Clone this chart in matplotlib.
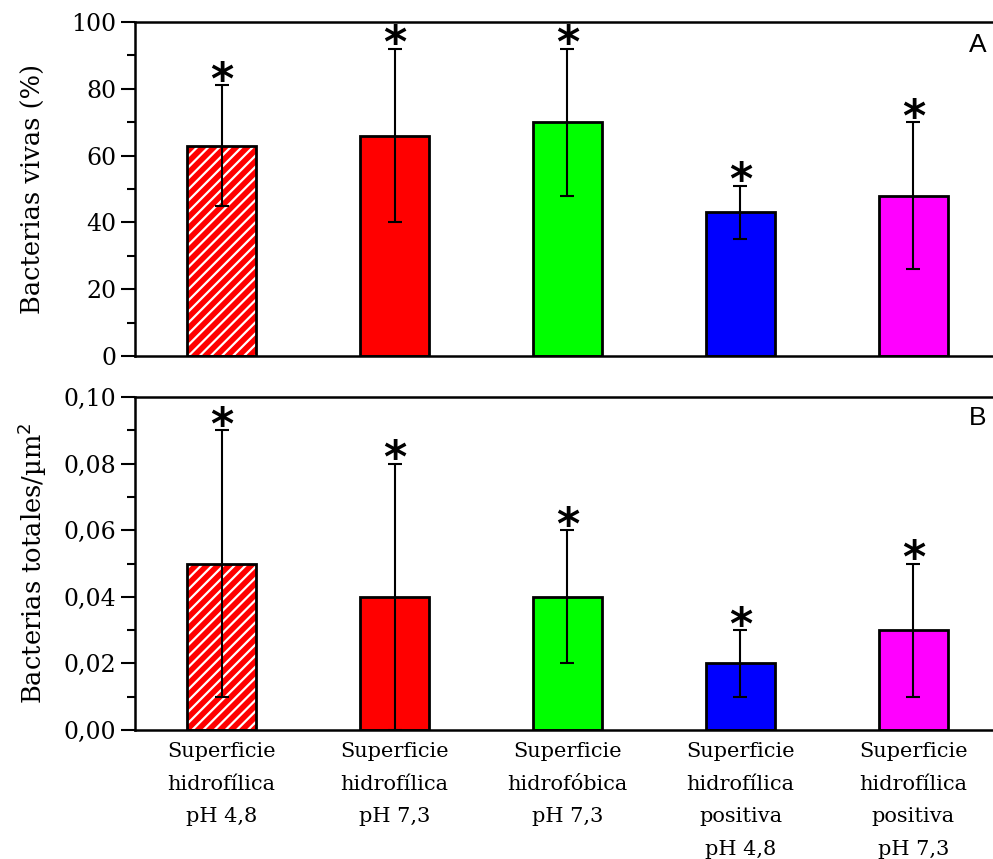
import matplotlib.pyplot as plt
import matplotlib.ticker as ticker
import numpy as np

categories = ['Superficie\nhidrofílica\npH 4,8',
              'Superficie\nhidrofílica\npH 7,3',
              'Superficie\nhidrofóbica\npH 7,3',
              'Superficie\nhidrofílica\npositiva\npH 4,8',
              'Superficie\nhidrofílica\npositiva\npH 7,3']
colors = ['#ff0000', '#ff0000', '#00ff00', '#0000ff', '#ff00ff']
hatched = [True, False, False, False, False]

vivas = [63, 66, 70, 43, 48]
vivas_err = [18, 26, 22, 8, 22]

totales = [0.05, 0.04, 0.04, 0.02, 0.03]
totales_err = [0.04, 0.04, 0.02, 0.01, 0.02]

plt.rcParams['hatch.linewidth'] = 1.6
serif = 'DejaVu Serif'

fig = plt.figure(figsize=(9.93, 8.59), dpi=100)
ax1 = fig.add_axes([0.136, 0.5856, 0.864, 0.3888])
ax2 = fig.add_axes([0.136, 0.1502, 0.864, 0.3876])

x = np.arange(len(categories))


def draw_panel(ax, vals, errs, ymax, minor, star_off, letter, ly):
    for i in range(len(vals)):
        if hatched[i]:
            ax.bar(x[i], vals[i], width=0.4, color=colors[i], edgecolor='white',
                   hatch='///', linewidth=0, zorder=2)
            ax.bar(x[i], vals[i], width=0.4, fill=False, edgecolor='black',
                   linewidth=2, zorder=3)
        else:
            ax.bar(x[i], vals[i], width=0.4, color=colors[i], edgecolor='black',
                   linewidth=2, zorder=2)
    ax.errorbar(x, vals, yerr=errs, fmt='none', ecolor='black', elinewidth=1.5,
                capsize=5, capthick=1.5, zorder=4)
    for i in range(len(vals)):
        ax.text(x[i], vals[i] + errs[i] + star_off, '*', ha='center', va='center',
                fontsize=32, fontweight='bold', zorder=5)
    ax.set_xlim(-0.5, 4.46)
    ax.set_ylim(0, ymax)
    ax.yaxis.set_minor_locator(ticker.MultipleLocator(minor))
    ax.tick_params(axis='y', which='major', direction='out', length=10, width=1.5,
                   labelsize=17)
    ax.tick_params(axis='y', which='minor', direction='out', length=6, width=1.5)
    ax.tick_params(axis='x', length=0)
    for side in ['left', 'bottom', 'top']:
        ax.spines[side].set_linewidth(1.8)
    ax.spines['right'].set_visible(False)
    ax.text(0.9825, ly, letter, transform=ax.transAxes, ha='center', va='center',
            fontsize=19, family='Liberation Sans')


draw_panel(ax1, vivas, vivas_err, 100, 10, 1.2, 'A', 0.931)
ax1.yaxis.set_major_locator(ticker.MultipleLocator(20))
ax1.set_xticks([])
ax1.set_ylabel('Bacterias vivas (%)', fontsize=18.5, family=serif)
ax1.yaxis.set_label_coords(-0.104, 0.5)
for lab in ax1.get_yticklabels():
    lab.set_fontfamily(serif)

draw_panel(ax2, totales, totales_err, 0.10, 0.01, 0.0012, 'B', 0.937)
ax2.yaxis.set_major_locator(ticker.MultipleLocator(0.02))
ax2.yaxis.set_major_formatter(ticker.FuncFormatter(lambda v, p: f'{v:.2f}'.replace('.', ',')))
ax2.set_xticks(x)
ax2.set_xticklabels(categories, fontsize=15, family=serif, linespacing=1.9)
ax2.tick_params(axis='x', pad=9)
ax2.set_ylabel('Bacterias totales/µm$^2$', fontsize=18.5, family=serif)
ax2.yaxis.set_label_coords(-0.1, 0.5)
for lab in ax2.get_yticklabels():
    lab.set_fontfamily(serif)

fig.savefig('out.png', dpi=100)
